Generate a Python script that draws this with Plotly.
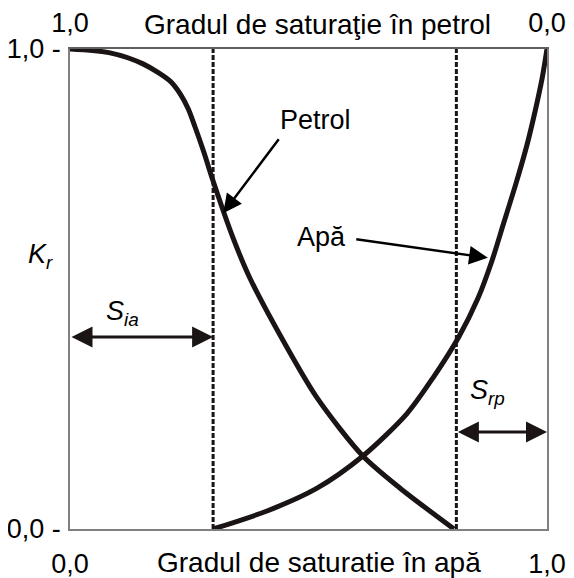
import plotly.graph_objects as go

# Relative permeability curves (x: water saturation fraction)
oil_sw = [0.0, 0.084, 0.153, 0.210, 0.232, 0.248, 0.262, 0.280, 0.300, 0.342, 0.377, 0.447, 0.518, 0.614, 0.692, 0.805]
oil_kr = [1.0, 0.992, 0.969, 0.933, 0.905, 0.875, 0.838, 0.787, 0.725, 0.606, 0.523, 0.392, 0.273, 0.152, 0.085, 0.0]

water_sw = [0.30, 0.413, 0.518, 0.614, 0.706, 0.761, 0.815, 0.855, 0.885, 0.91, 0.935, 0.958, 0.975, 0.99, 1.0]
water_kr = [0.0, 0.0375, 0.085, 0.152, 0.240, 0.315, 0.40, 0.48, 0.56, 0.64, 0.72, 0.80, 0.87, 0.94, 1.0]

s_ia = 0.30      # irreducible water saturation
s_rp_edge = 0.81 # residual oil saturation boundary

bottom_ticks = ["0,0", "1,0"]
top_ticks = ["1,0", "0,0"]
left_ticks = ["0,0 -", "1,0 -"]

FONT = "Liberation Sans, Arial, sans-serif"
FS = 27
FS_T = 28
INK = "#1a1414"

fig = go.Figure()
fig.add_trace(go.Scatter(x=[s_ia, s_ia], y=[0, 1], mode="lines",
                         line=dict(color=INK, width=3, dash="5px,2px"), showlegend=False))
fig.add_trace(go.Scatter(x=[s_rp_edge, s_rp_edge], y=[0, 1], mode="lines",
                         line=dict(color=INK, width=3, dash="5px,2px"), showlegend=False))
fig.add_trace(go.Scatter(x=oil_sw, y=oil_kr, mode="lines",
                         line=dict(color=INK, width=5, shape="spline", smoothing=0.8), showlegend=False))
fig.add_trace(go.Scatter(x=water_sw, y=water_kr, mode="lines",
                         line=dict(color=INK, width=5, shape="spline", smoothing=0.8), showlegend=False))
# invisible trace for top axis
fig.add_trace(go.Scatter(x=[0, 1], y=[0, 0], xaxis="x2", mode="markers",
                         marker=dict(opacity=0), showlegend=False, hoverinfo="skip"))

fig.update_layout(
    width=566, height=570,
    margin=dict(l=62, r=27, t=41, b=49, autoexpand=False),
    paper_bgcolor="white", plot_bgcolor="white",
    font=dict(family=FONT, size=FS, color="black"),
    xaxis=dict(range=[0, 1], tickvals=[0, 1], ticktext=bottom_ticks, showgrid=False, zeroline=False,
               showline=True, linecolor="#808080", linewidth=1.5, ticks="", automargin=False,
               ticklabelstandoff=10, tickfont=dict(size=FS)),
    xaxis2=dict(range=[1, 0], overlaying="x", side="top", tickvals=[1, 0], ticktext=top_ticks,
                showgrid=False, zeroline=False, showline=True, linecolor="#606060", linewidth=1.5,
                ticks="", automargin=False, ticklabelstandoff=4, tickfont=dict(size=FS)),
    yaxis=dict(range=[0, 1], tickvals=[0, 1], ticktext=left_ticks, showgrid=False, zeroline=False,
               showline=True, linecolor="#808080", linewidth=1.5, mirror=True, ticks="",
               automargin=False, ticklabelstandoff=2, tickfont=dict(size=FS)),
)

ann = []
# Axis titles
ann.append(dict(text="Gradul de saturaţie în petrol", xref="paper", yref="paper", x=0.518, y=1.0,
                yanchor="middle", yshift=25, showarrow=False, font=dict(size=FS_T)))
ann.append(dict(text="Gradul de saturatie în apă", xref="paper", yref="paper", x=0.522, y=0.0,
                yanchor="middle", yshift=-33, showarrow=False, font=dict(size=FS_T)))
# K_r
ann.append(dict(text="<i>K<sub>r</sub></i>", xref="paper", yref="paper", x=-0.059, y=0.568,
                xshift=-16, showarrow=False, font=dict(size=FS)))
# S_ia label and arrow
ann.append(dict(text="<i>S<sub>ia</sub></i>", xref="x", yref="y", x=0.111, y=0.45,
                showarrow=False, font=dict(size=FS)))
ann.append(dict(text="", x=s_ia, y=0.40, ax=0.0, ay=0.40, xref="x", yref="y", axref="x", ayref="y",
                showarrow=True, arrowhead=2, arrowside="end+start", arrowsize=1.4, arrowwidth=3,
                arrowcolor=INK, standoff=0, startstandoff=0))
# S_rp label and arrow
ann.append(dict(text="<i>S<sub>rp</sub></i>", xref="x", yref="y", x=0.876, y=0.285,
                showarrow=False, font=dict(size=FS)))
ann.append(dict(text="", x=1.0, y=0.202, ax=s_rp_edge, ay=0.202, xref="x", yref="y", axref="x", ayref="y",
                showarrow=True, arrowhead=2, arrowside="end+start", arrowsize=1.4, arrowwidth=3,
                arrowcolor=INK, standoff=0, startstandoff=0))
# Petrol
ann.append(dict(text="Petrol", xref="x", yref="y", x=0.514, y=0.852, showarrow=False, font=dict(size=FS)))
ann.append(dict(text="", x=0.321, y=0.658, ax=0.440, ay=0.815, xref="x", yref="y", axref="x", ayref="y",
                showarrow=True, arrowhead=2, arrowsize=1.5, arrowwidth=2.5, arrowcolor="black", standoff=0))
# Apa
ann.append(dict(text="Apă", xref="x", yref="y", x=0.528, y=0.608, showarrow=False, font=dict(size=FS)))
ann.append(dict(text="", x=0.876, y=0.565, ax=0.597, ay=0.604, xref="x", yref="y", axref="x", ayref="y",
                showarrow=True, arrowhead=2, arrowsize=1.5, arrowwidth=2.5, arrowcolor="black", standoff=0))

fig.update_layout(annotations=ann)
fig.write_html("out.html")
